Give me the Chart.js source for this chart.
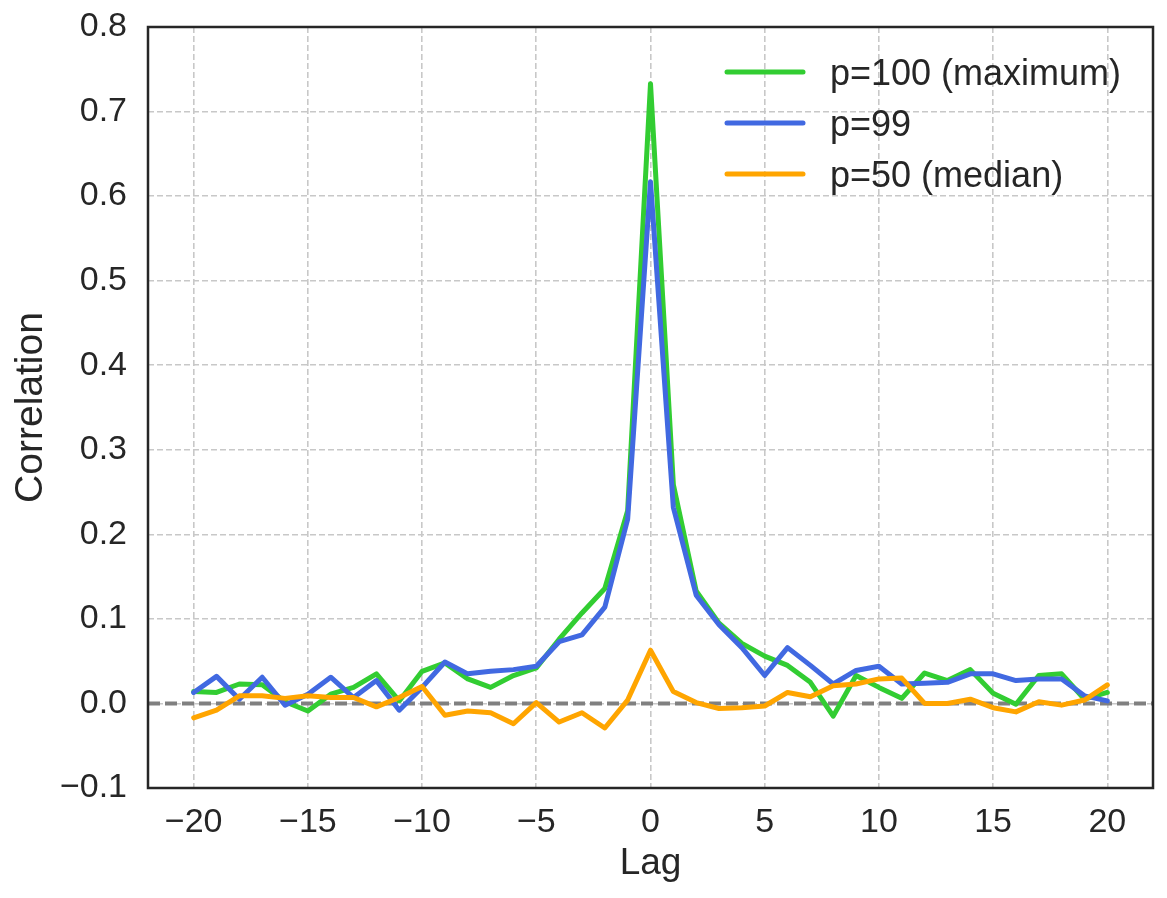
<!DOCTYPE html>
<html>
<head>
<meta charset="utf-8">
<script src="https://cdn.jsdelivr.net/npm/chart.js@4"></script>
<style>
  html, body { margin: 0; padding: 0; background: #fff; }
  canvas { display: block; }
</style>
</head>
<body>
<canvas id="myChart" width="1167" height="898"></canvas>
<script>
var lags = [-20, -19, -18, -17, -16, -15, -14, -13, -12, -11, -10, -9, -8, -7, -6, -5, -4, -3, -2, -1,
            0, 1, 2, 3, 4, 5, 6, 7, 8, 9, 10, 11, 12, 13, 14, 15, 16, 17, 18, 19, 20];

var p100 = [0.014, 0.013, 0.023, 0.022, 0.002, -0.009, 0.011, 0.019, 0.035, 0.003, 0.038, 0.048, 0.029, 0.019, 0.033, 0.042, 0.076, 0.107, 0.136, 0.228,
            0.733, 0.259, 0.133, 0.095, 0.071, 0.056, 0.045, 0.025, -0.015, 0.033, 0.019, 0.006, 0.036, 0.027, 0.040, 0.012, -0.001, 0.033, 0.035, 0.005, 0.013];

var p99 = [0.013, 0.032, 0.005, 0.031, -0.002, 0.011, 0.031, 0.007, 0.027, -0.008, 0.019, 0.049, 0.035, 0.038, 0.040, 0.044, 0.073, 0.081, 0.114, 0.218,
           0.617, 0.232, 0.128, 0.093, 0.066, 0.033, 0.066, 0.045, 0.023, 0.039, 0.044, 0.023, 0.024, 0.025, 0.035, 0.035, 0.027, 0.029, 0.029, 0.009, 0.003];

var p50 = [-0.017, -0.008, 0.009, 0.009, 0.006, 0.009, 0.007, 0.007, -0.004, 0.007, 0.020, -0.014, -0.009, -0.011, -0.024, 0.001, -0.022, -0.011, -0.029, 0.004,
           0.063, 0.014, 0.001, -0.006, -0.005, -0.003, 0.013, 0.008, 0.021, 0.023, 0.029, 0.030, 0.000, 0.000, 0.005, -0.005, -0.010, 0.002, -0.002, 0.004, 0.022];

var seriesLabels = ["p=100 (maximum)", "p=99", "p=50 (median)"];
var seriesColors = ["#32cd32", "#4169e1", "#ffa500"];

var xTicks = [-20, -15, -10, -5, 0, 5, 10, 15, 20];
var yTicks = [-0.1, 0, 0.1, 0.2, 0.3, 0.4, 0.5, 0.6, 0.7, 0.8];

var textColor = "#262626";
var fontFamily = "'Liberation Sans', Arial, sans-serif";

Chart.defaults.font.family = fontFamily;
Chart.defaults.color = textColor;

function pts(ys) {
  return lags.map(function (x, i) { return {x: x, y: ys[i]}; });
}

function fmt(v) {
  return String(v).replace("-", "\u2212");
}

// dashed zero line under the data, frame and legend on top
var extras = {
  id: "extras",
  beforeDatasetsDraw: function (chart) {
    var ctx = chart.ctx, a = chart.chartArea;
    var y0 = chart.scales.y.getPixelForValue(0);
    ctx.save();
    ctx.strokeStyle = "#808080";
    ctx.lineWidth = 4;
    ctx.setLineDash([12, 5]);
    ctx.beginPath();
    ctx.moveTo(a.left, y0);
    ctx.lineTo(a.right, y0);
    ctx.stroke();
    ctx.restore();
  },
  afterDatasetsDraw: function (chart) {
    var ctx = chart.ctx, a = chart.chartArea;
    ctx.save();
    ctx.strokeStyle = textColor;
    ctx.lineWidth = 2.5;
    ctx.strokeRect(a.left, a.top, a.right - a.left, a.bottom - a.top);

    chart.data.datasets.forEach(function (ds, i) {
      var y = 72 + i * 51;
      ctx.strokeStyle = ds.borderColor;
      ctx.lineWidth = 5;
      ctx.lineCap = "round";
      ctx.beginPath();
      ctx.moveTo(727, y);
      ctx.lineTo(803, y);
      ctx.stroke();
      ctx.fillStyle = textColor;
      ctx.font = "36px " + fontFamily;
      ctx.textBaseline = "alphabetic";
      ctx.fillText(ds.label, 830, y + 13);
    });
    ctx.restore();
  }
};

new Chart("myChart", {
  type: "line",
  data: {
    datasets: [
      {label: seriesLabels[0], data: pts(p100), borderColor: seriesColors[0], order: 3},
      {label: seriesLabels[1], data: pts(p99), borderColor: seriesColors[1], order: 2},
      {label: seriesLabels[2], data: pts(p50), borderColor: seriesColors[2], order: 1}
    ]
  },
  options: {
    responsive: false,
    animation: false,
    layout: {padding: {top: 27, right: 14, left: 0, bottom: 0}},
    elements: {
      line: {borderWidth: 5, tension: 0, borderJoinStyle: "round", borderCapStyle: "round"},
      point: {radius: 0}
    },
    plugins: {
      legend: {display: false},
      tooltip: {enabled: false}
    },
    scales: {
      x: {
        type: "linear",
        min: -22,
        max: 22,
        afterBuildTicks: function (s) { s.ticks = xTicks.map(function (v) { return {value: v}; }); },
        afterFit: function (s) { s.height = 110; s.paddingLeft = 0; s.paddingRight = 0; },
        grid: {color: "#c8c8c8", lineWidth: 1.6, drawTicks: false},
        border: {display: false, dash: [6, 3]},
        ticks: {font: {size: 34}, padding: 14, color: textColor, callback: function (v) { return fmt(v); }},
        title: {display: true, text: "Lag", font: {size: 37}, color: textColor, padding: {top: 0, bottom: 12}}
      },
      y: {
        min: -0.1,
        max: 0.8,
        afterBuildTicks: function (s) { s.ticks = yTicks.map(function (v) { return {value: v}; }); },
        afterFit: function (s) { s.width = 148; s.paddingTop = 0; s.paddingBottom = 0; },
        grid: {color: "#c8c8c8", lineWidth: 1.6, drawTicks: false},
        border: {display: false, dash: [6, 3]},
        ticks: {font: {size: 34}, padding: 21, color: textColor, callback: function (v) { return fmt(v.toFixed(1)); }},
        title: {display: true, text: "Correlation", font: {size: 39}, color: textColor, padding: {top: 8, bottom: 0}}
      }
    }
  },
  plugins: [extras]
});
</script>
</body>
</html>
